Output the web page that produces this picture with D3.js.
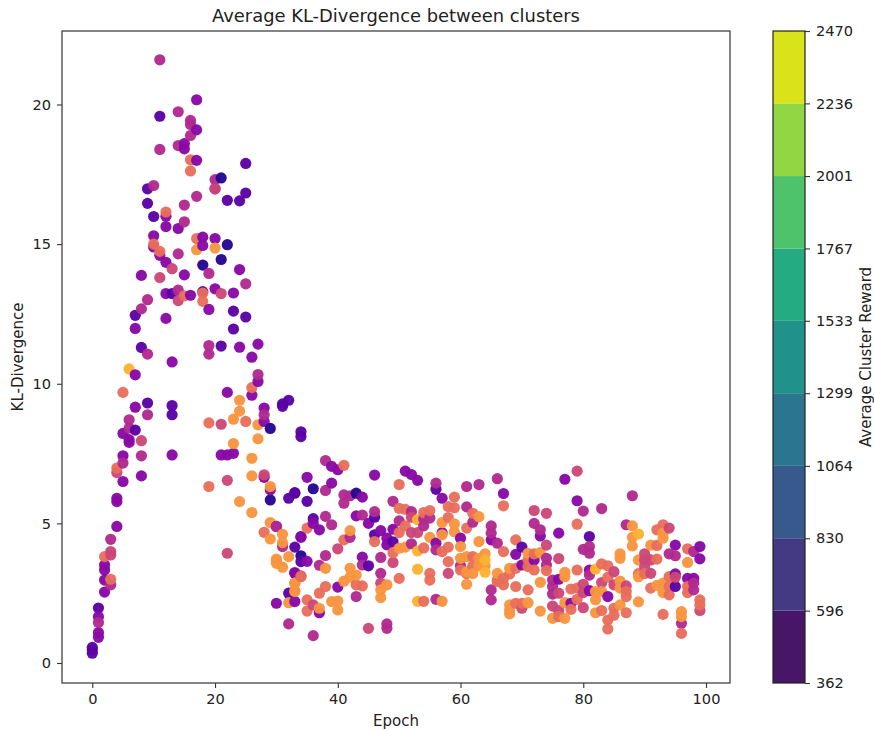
<!DOCTYPE html>
<html>
<head>
<meta charset="utf-8">
<script src="https://cdn.jsdelivr.net/npm/d3@7"></script>
<style>
  html, body { margin: 0; padding: 0; background: #fff; }
  svg { display: block; }
  text { font-family: "DejaVu Sans", sans-serif; fill: #222; }
</style>
</head>
<body>
<script>
// [epoch, kl], one list per colour group
var navyPoints = [[21,17.37],[22,14.98],[21,14.45],[36,6.24],[34,3.84],[29,5.84],[29,8.4],[43,6.08],[18,14.25]];
var deepPurplePoints = [[25,17.89],[11,19.58],[9,16.98],[25,16.83],[22,16.57],[24,16.55],[9,16.46],[10,15.99],[13,13.23],[7,12.45],[23,12.6],[25,12.39],[23,11.96],[8,11.3],[21,11.35],[9,9.31],[13,9.22],[13,8.89],[31,9.28],[31,9.19],[32,9.41],[34,8.28],[34,8.11],[7,8.34],[32,5.9],[33,6.08],[1,1.97],[0,.56],[0,.47],[0,.35],[33,4.15],[34,3.63],[32,2.5],[33,6.1],[35,5.79],[46,5.22],[36,5.17],[34,4.53],[46,4.59],[49,4.34],[56,6.22],[70,4.15],[81,4.53],[45,3.48],[18,13.3],[95,2.74]];
var violetPoints = [[17,20.17],[17,19.09],[15,18.6],[15,18.41],[17,18],[20,16.98],[12,16],[12,15.63],[14,15.56],[10,15.3],[10,14.9],[18,15.25],[18,14.95],[20,15.2],[11,14.6],[12,14.35],[24,14.09],[8,13.88],[15,13.9],[12,13.23],[16,13.17],[20,13.4],[23,13.25],[19,12.66],[12,12.34],[7,11.98],[24,11.31],[27,11.42],[26,10.95],[13,10.78],[7,10.32],[27,10.08],[26,9.59],[22,9.69],[7,9.16],[28,9.13],[28,8.65],[5,8.22],[6,8],[6,7.9],[5,7.42],[13,7.45],[21,7.45],[22,7.45],[23,7.51],[8,6.7],[5,6.5],[28,6.65],[29,6.2],[4,5.9],[4,5.78],[4,4.89],[2,3.51],[2,3.33],[2,2.97],[2,2.54],[1,1.66],[1,1.09],[1,.92],[34,4.5],[33,3.21],[33,2.2],[30,2.14],[35,6.65],[39,7.04],[40,6.92],[39,6.44],[44,5.94],[46,6.73],[51,6.87],[52,6.75],[53,6.54],[57,5.9],[49,4.79],[47,4.74],[45,5],[43,5.27],[36,5],[37,4.77],[30,4.89],[48,4.47],[48,4.23],[56,4.29],[57,4.67],[60,4.47],[65,4.41],[35,3.64],[44,3.79],[33,3.24],[40,2.72],[37,1.8],[67,6.07],[77,6.58],[79,5.81],[73,4.55],[76,4.65],[69,3.89],[72,3.69],[70,3.51],[81,3.33],[76,3],[81,2.59],[84,2.38],[78,2.14],[95,3.19],[95,4.22],[99,4.17],[99,3.73],[97,3.03],[98,3.03]];
var magentaPoints = [[11,21.6],[14,19.74],[16,19.43],[16,19.28],[16,18.89],[14,18.53],[11,18.39],[20,17.31],[10,17.1],[17,16.71],[15,16.4],[15,15.8],[14,14.65],[19,13.95],[25,13.58],[14,13.35],[9,13.01],[8,12.68],[19,11.37],[19,11.06],[9,11.06],[27,10.33],[9,8.89],[28,8.89],[6,8.71],[6,8.41],[8,7.42],[5,7.16],[3,4.43],[3,2.8],[1,1.45],[30,4.89],[31,4.17],[32,1.4],[38,7.25],[38,6.18],[41,6.02],[42,5.99],[41,5.72],[49,5.79],[61,6.32],[63,6.39],[56,6.44],[61,5.59],[62,5.04],[52,5.42],[54,5.17],[55,5.19],[50,5.09],[54,4.91],[46,5.42],[44,5.3],[38,5.25],[39,4.95],[42,4.5],[52,4.27],[56,4.05],[65,4.91],[65,4.65],[66,4.29],[38,3.85],[37,3.5],[44,3.51],[47,3.78],[47,3.21],[60,3.48],[65,2.62],[65,2.26],[43,2.38],[36,.98],[48,1.4],[48,1.24],[56,2.28],[66,6.6],[88,5.99],[83,5.53],[80,5.44],[72,5.0],[73,4.77],[80,4.07],[81,4.17],[81,3.93],[74,3.75],[74,3.51],[81,3.15],[75,2.97],[75,2.74],[75,2.47],[87,4.95],[94,3.91],[95,3.84],[98,3.99],[98,2.86],[98,2.62],[96,1.42]];
var rosePoints = [[20,16.98],[11,13.8],[13,14.12],[14,12.98],[21,13.23],[8,7.96],[21,8.55],[22,6.54],[28,6.74],[4,6.82],[3,3.99],[3,3.87],[22,3.93],[34,3.12],[40,4.09],[52,5.22],[52,4.67],[53,4.67],[36,2.08],[47,2.86],[45,1.24],[79,6.87],[72,5.46],[74,5.36],[74,4.22],[76,3.74],[85,3.27],[83,2.88],[85,2.8],[87,2.76],[80,2.82],[80,2.52],[76,2.5],[70,1.96],[75,2.04],[76,1.88],[80,1.98],[90,3.91],[90,3.69],[90,3.45],[91,3.69],[91,3.21],[94,4.83],[95,3.07],[99,1.88],[58,3.21],[49,3.6]];
var coralPoints = [[16,18.02],[16,17.62],[12,16.15],[17,15.2],[10,15],[11,14.74],[18,13.25],[15,13.15],[18,12.95],[5,9.69],[26,9.86],[25,8.65],[19,8.6],[4,6.98],[19,6.32],[2,3.81],[3,3],[28,4.68],[34,3.09],[41,7.08],[50,6.39],[59,5.94],[58,5.6],[59,5.56],[62,5.36],[58,5.21],[61,4.83],[50,5.54],[51,5.5],[54,5.39],[55,5.46],[51,4.91],[50,4.67],[35,4.83],[41,4.41],[46,4.35],[49,3.95],[54,4.12],[58,4.15],[58,3.63],[62,3.48],[62,3.81],[60,3.33],[55,3.21],[55,2.97],[50,3.03],[66,2.92],[33,2.86],[33,2.59],[38,2.74],[37,2.5],[43,2.8],[44,2.76],[35,2.26],[35,1.86],[54,2.21],[67,5.63],[79,4.97],[69,4.41],[67,3.99],[71,3.69],[71,3.45],[72,3.91],[72,3.33],[74,3.31],[69,3.39],[68,3.19],[67,3.03],[67,2.8],[66,2.97],[69,2.74],[71,2.62],[79,3.33],[83,3.55],[84,3.48],[84,3.07],[87,2.56],[78,2.65],[79,2.68],[79,2.28],[87,2.38],[69,2.14],[70,2.14],[76,1.66],[78,1.92],[83,1.88],[84,1.54],[84,1.22],[85,1.96],[85,1.71],[87,1.8],[92,4.77],[92,4.21],[92,3.72],[93,4.95],[89,3.2],[90,3.2],[91,2.68],[94,3.09],[94,2.74],[94,2.44],[97,4.09],[97,2.74],[97,2.52],[99,2.26],[99,2.08],[93,1.74],[96,1.06],[57,3.99],[61,3.2]];
var orangePoints = [[17,14.8],[20,14.86],[24,9.41],[24,9.02],[23,8.73],[27,8.53],[27,8.03],[23,7.86],[26,7.33],[26,6.7],[29,6.32],[24,5.78],[26,5.39],[29,5.03],[29,4.44],[31,4.61],[31,4.31],[32,3.81],[30,3.72],[30,3.57],[31,3.43],[33,2.86],[33,2.56],[32,2.16],[63,5.24],[57,5.03],[59,4.98],[59,4.7],[50,4.11],[51,4.15],[55,4.5],[57,4.59],[60,4.17],[63,4.35],[30,3.67],[42,4.74],[42,3.39],[43,3.15],[42,3.07],[41,2.93],[61,3.27],[63,3.75],[64,3.91],[66,3.21],[61,2.82],[38,3.39],[48,2.8],[47,2.62],[47,2.34],[37,1.96],[39,2.2],[40,2.22],[40,1.9],[57,2.21],[71,3.93],[73,3.95],[68,3.39],[73,2.89],[77,3.25],[77,3.09],[86,2.93],[86,2.68],[82,2.56],[83,2.56],[82,2.26],[89,2.19],[68,2.08],[68,1.9],[68,1.76],[71,2.16],[73,1.86],[75,1.6],[77,2.16],[77,1.6],[82,1.8],[86,2.08],[86,3.91],[86,3.75],[88,4.91],[88,4.5],[88,4.19],[89,3.69],[89,3.09],[91,4.22],[93,4.65],[93,4.47],[92,2.78],[93,2.86],[93,2.52],[97,3.6],[96,1.84],[96,1.66],[60,3.75],[61,3.81],[63,3.48],[64,3.48],[62,3.2]];
var amberPoints = [[6,10.53],[53,5.13],[53,4.01],[53,3.36],[64,3.69],[64,3.25],[53,2.21],[82,3.36],[89,4.62]];

var groups = [navyPoints, deepPurplePoints, violetPoints, magentaPoints, rosePoints, coralPoints, orangePoints, amberPoints];
var groupRewards = [440, 700, 950, 1205, 1416, 1690, 1943, 2112];

var xTicks = [0, 20, 40, 60, 80, 100];
var yTicks = [0, 5, 10, 15, 20];
var rewardTicks = [362, 596, 830, 1064, 1299, 1533, 1767, 2001, 2236, 2470];

var w = 874,
    h = 730;

var svg = d3.select("body").append("svg")
    .attr("width", w)
    .attr("height", h);

var left = 62, right = 730, top_ = 31, bottom = 683;

var x = d3.scaleLinear().domain([0, 100]).range([92.3, 706]);
var y = d3.scaleLinear().domain([0, 20]).range([663, 104.5]);

// epoch order, so that later points sit on top like in the original
var data = [];
groups.forEach(function(g, i) {
  g.forEach(function(p) {
    data.push({ epoch: p[0], kl: p[1], reward: groupRewards[i] });
  });
});
data = d3.sort(data, function(d) { return d.epoch; });

var plasma = d3.scaleSequential(d3.interpolatePlasma).domain([362, 2470]);

svg.append("g").selectAll("circle")
    .data(data)
  .enter().append("circle")
    .attr("cx", function(d) { return x(d.epoch); })
    .attr("cy", function(d) { return y(d.kl); })
    .attr("r", 5.6)
    .attr("fill", function(d) { return plasma(d.reward); })
    .attr("fill-opacity", 0.96);

svg.append("rect")
    .attr("x", left)
    .attr("y", top_)
    .attr("width", right - left)
    .attr("height", bottom - top_)
    .attr("fill", "none")
    .attr("stroke", "#333")
    .attr("stroke-width", 1.2);

var xAxis = svg.append("g")
    .attr("transform", "translate(0," + bottom + ")")
    .call(d3.axisBottom(x).tickValues(xTicks).tickSize(5).tickPadding(6).tickFormat(d3.format("d")));
var yAxis = svg.append("g")
    .attr("transform", "translate(" + left + ",0)")
    .call(d3.axisLeft(y).tickValues(yTicks).tickSize(5).tickPadding(6).tickFormat(d3.format("d")));

// colorbar
var barLeft = 773, barRight = 805;
var cy = d3.scaleLinear().domain([362, 2470]).range([bottom, top_]);
var viridis = d3.scaleSequential(d3.interpolateViridis).domain([0, rewardTicks.length - 1]);

svg.append("g").selectAll("rect")
    .data(d3.pairs(rewardTicks))
  .enter().append("rect")
    .attr("x", barLeft)
    .attr("width", barRight - barLeft)
    .attr("y", function(d) { return cy(d[1]); })
    .attr("height", function(d) { return cy(d[0]) - cy(d[1]); })
    .attr("fill", function(d, i) { return viridis(i + 0.5); });

svg.append("rect")
    .attr("x", barLeft)
    .attr("y", top_)
    .attr("width", barRight - barLeft)
    .attr("height", bottom - top_)
    .attr("fill", "none")
    .attr("stroke", "#222")
    .attr("stroke-width", 1.2);

var cAxis = svg.append("g")
    .attr("transform", "translate(" + barRight + ",0)")
    .call(d3.axisRight(cy).tickValues(rewardTicks).tickSize(5).tickPadding(6).tickFormat(d3.format("d")));

[xAxis, yAxis, cAxis].forEach(function(a) {
  a.select(".domain").remove();
  a.selectAll("line").attr("stroke", "#333").attr("stroke-width", 1.1);
  a.selectAll("text").attr("font-size", 14.6).attr("font-family", '"DejaVu Sans", sans-serif').attr("fill", "#222");
});

svg.append("text")
    .attr("x", 396)
    .attr("y", 22)
    .attr("text-anchor", "middle")
    .attr("font-size", 17.9)
    .text("Average KL-Divergence between clusters");

svg.append("text")
    .attr("x", 396)
    .attr("y", 726)
    .attr("text-anchor", "middle")
    .attr("font-size", 15)
    .text("Epoch");

svg.append("text")
    .attr("transform", "translate(23,357) rotate(-90)")
    .attr("text-anchor", "middle")
    .attr("font-size", 15)
    .text("KL-Divergence");

svg.append("text")
    .attr("transform", "translate(871,357) rotate(-90)")
    .attr("text-anchor", "middle")
    .attr("font-size", 15)
    .text("Average Cluster Reward");
</script>
</body>
</html>
